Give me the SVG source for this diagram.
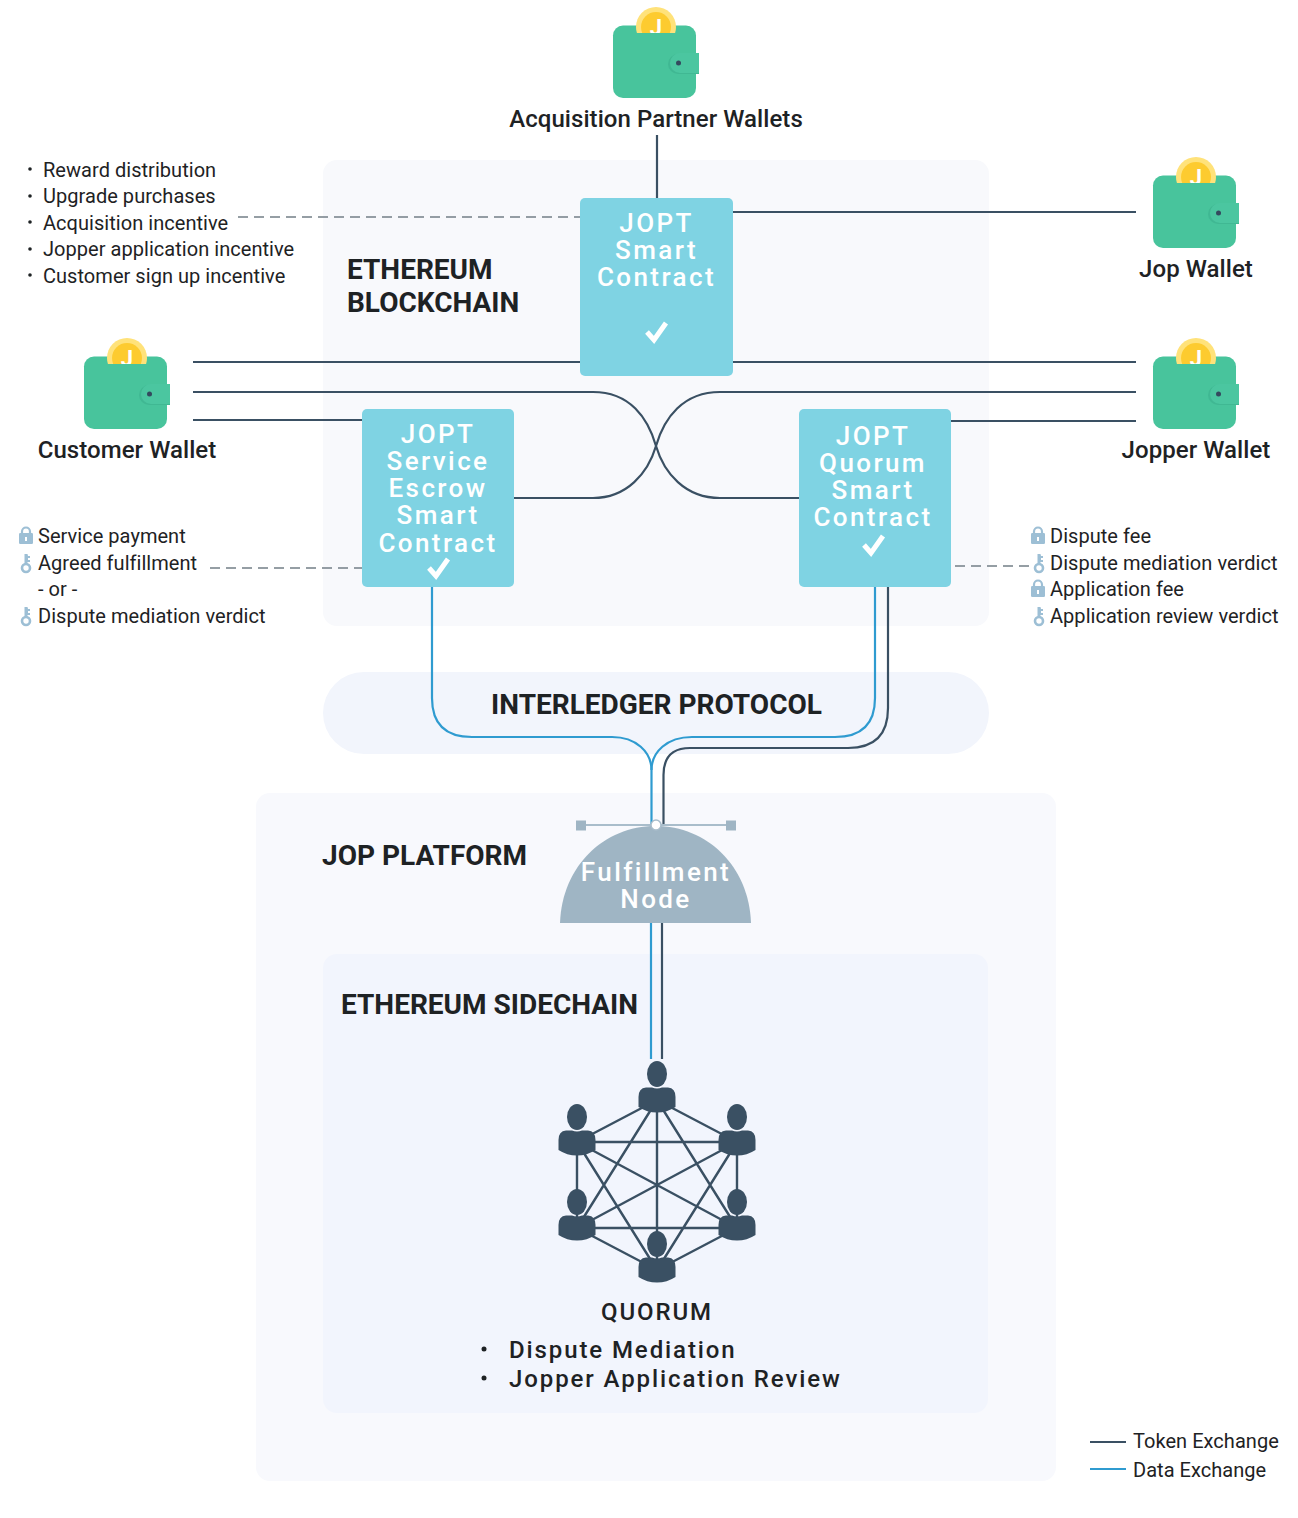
<svg xmlns="http://www.w3.org/2000/svg" width="1298" height="1518" viewBox="0 0 1298 1518">
<style>
text{font-family:Roboto,"Liberation Sans",sans-serif;fill:#1e2224}
.list{font-size:20px;letter-spacing:.04px}
.wl{font-size:24px;font-weight:500;text-anchor:middle;letter-spacing:.06px}
.title{font-size:28px;font-weight:700}
.box{font-size:26px;font-weight:500;fill:#fff;text-anchor:middle;letter-spacing:2.4px}
.q{font-size:24px;font-weight:500;letter-spacing:1.9px}
.tok{fill:none;stroke:#3a5063;stroke-width:2.2}
.dat{fill:none;stroke:#2f9bd0;stroke-width:2.2}
.dash{fill:none;stroke:#737f87;stroke-width:1.3;stroke-dasharray:10 6}
.net{stroke:#3a5063;stroke-width:2.4}
.card{fill:#7fd3e3}
.chk{fill:none;stroke:#fff;stroke-width:5}
</style>
<defs>
<clipPath id="coinclip"><rect x="630" y="0" width="52" height="33"/></clipPath>
<g id="wallet">
<rect x="613" y="25.500" width="83" height="72.500" rx="10" fill="#48c49c"/>
<g clip-path="url(#coinclip)">
<circle cx="656" cy="27" r="20" fill="#ffe27a"/>
<circle cx="656" cy="27" r="15" fill="#fdcb2f"/>
<text x="656" y="35" font-size="22" font-weight="700" text-anchor="middle" style="fill:#fff">J</text>
</g>
<path d="M678 54H699V74H678A10 10 0 0 1 678 54Z" fill="#40b893"/>
<path d="M680 53H699V73H680A10 10 0 0 1 680 53Z" fill="#4bc6a0"/>
<circle cx="678.500" cy="63" r="2.500" fill="#34495e"/>
</g>
<g id="person">
<ellipse cx="0" cy="-26" rx="10" ry="13" fill="#3a5063"/>
<path d="M-5 -12.500Q0 -10.500 5 -12.500H11Q18.500 -12 18.500 -3V7Q10 12.500 0 12.500Q-10 12.500 -18.500 7V-3Q-18.500 -12 -11 -12.500Z" fill="#3a5063"/>
</g>
<g id="lock">
<path d="M-4 -3V-4.500A4 4 0 0 1 4 -4.500V-3" fill="none" stroke="#9dbfd5" stroke-width="2.200"/>
<rect x="-7" y="-3" width="14" height="11" rx="1.200" fill="#9dbfd5"/>
<rect x="-1" y="1" width="2" height="4" fill="#fff"/>
</g>
<g id="key">
<circle cx="0" cy="5" r="4" fill="none" stroke="#9dbfd5" stroke-width="2.600"/>
<path d="M-1.500 2V-9H1.500L2 -7H4V-5H2V-3H4V-1H1.500V2Z" fill="#9dbfd5"/>
</g>
</defs>

<g id="panels">
<rect id="ethereum-panel" x="323" y="160" width="666" height="466" rx="14" fill="#f8f9fc"/>
<rect id="interledger-panel" x="323" y="672" width="666" height="82" rx="41" fill="#f2f5fc"/>
<rect id="platform-panel" x="256" y="793" width="800" height="688" rx="14" fill="#f8f9fd"/>
<rect id="sidechain-panel" x="323" y="954" width="665" height="459" rx="14" fill="#f2f5fd"/>
</g>

<g id="connectors">
<path class="tok" d="M657 135V198"/>
<path class="tok" d="M733 212H1136"/>
<path class="tok" d="M193 362H580"/>
<path class="tok" d="M733 362H1136"/>
<path class="tok" d="M193 420H362"/>
<path class="tok" d="M951 421H1136"/>
<path class="tok" d="M193 392H593C630 392 648 418 656 446C664 473 685 498 720 498H799"/>
<path class="tok" d="M1136 392H720C683 392 664 418 656 446C648 473 627 498 593 498H514"/>
<path class="dash" d="M238 217H580"/>
<path class="dash" d="M210 568H362"/>
<path class="dash" d="M955 566H1030"/>
<path class="dat" d="M432 587V698Q432 737 472 737H612C636 737 651.500 752 651.500 770V825"/>
<path class="dat" d="M875 587V698Q875 737 835 737H692C667 737 651.500 752 651.500 770"/>
<path class="tok" d="M888 587V708Q888 748 848 748H690Q663.500 748 663.500 775V825"/>
<path class="dat" d="M651 923V1059"/>
<path class="tok" d="M662 923V1059"/>
</g>

<g id="wallet-top"><use href="#wallet"/><text class="wl" x="656" y="127">Acquisition Partner Wallets</text></g>
<g id="wallet-jop"><use href="#wallet" x="540" y="150"/><text class="wl" x="1196" y="277">Jop Wallet</text></g>
<g id="wallet-customer"><use href="#wallet" x="-529" y="331"/><text class="wl" x="127" y="458">Customer Wallet</text></g>
<g id="wallet-jopper"><use href="#wallet" x="540" y="331"/><text class="wl" x="1196" y="458">Jopper Wallet</text></g>

<g id="notes-rewards">
<circle cx="30" cy="169" r="1.800" fill="#1e2224"/><circle cx="30" cy="196" r="1.800" fill="#1e2224"/><circle cx="30" cy="222" r="1.800" fill="#1e2224"/><circle cx="30" cy="249" r="1.800" fill="#1e2224"/><circle cx="30" cy="275" r="1.800" fill="#1e2224"/>
<text class="list" x="43" y="177">Reward distribution</text>
<text class="list" x="43" y="203">Upgrade purchases</text>
<text class="list" x="43" y="230">Acquisition incentive</text>
<text class="list" x="43" y="256">Jopper application incentive</text>
<text class="list" x="43" y="283">Customer sign up incentive</text>
</g>

<g id="notes-escrow">
<use href="#lock" x="26" y="536"/><use href="#key" x="26" y="563"/><use href="#key" x="26" y="616"/>
<text class="list" x="38" y="543">Service payment</text>
<text class="list" x="38" y="570">Agreed fulfillment</text>
<text class="list" x="38" y="596">- or -</text>
<text class="list" x="38" y="623">Dispute mediation verdict</text>
</g>

<g id="notes-quorum">
<use href="#lock" x="1038" y="536"/><use href="#key" x="1039" y="563"/><use href="#lock" x="1038" y="589"/><use href="#key" x="1039" y="616"/>
<text class="list" x="1050" y="543">Dispute fee</text>
<text class="list" x="1050" y="570">Dispute mediation verdict</text>
<text class="list" x="1050" y="596">Application fee</text>
<text class="list" x="1050" y="623">Application review verdict</text>
</g>

<g id="label-ethereum"><text class="title" x="347" y="279">ETHEREUM</text><text class="title" x="347" y="312">BLOCKCHAIN</text></g>

<g id="jopt-smart-contract">
<rect class="card" x="580" y="198" width="153" height="178" rx="5"/>
<text class="box" x="656.500" y="232">JOPT</text><text class="box" x="656.500" y="259">Smart</text><text class="box" x="656.500" y="286">Contract</text>
<path class="chk" d="M647 332L654 340L666 323"/>
</g>
<g id="jopt-escrow">
<rect class="card" x="362" y="409" width="152" height="178" rx="5"/>
<text class="box" x="438" y="443">JOPT</text><text class="box" x="438" y="470">Service</text><text class="box" x="438" y="497">Escrow</text><text class="box" x="438" y="524">Smart</text><text class="box" x="438" y="552">Contract</text>
<path class="chk" d="M429 568L436 576L448 559"/>
</g>
<g id="jopt-quorum">
<rect class="card" x="799" y="409" width="152" height="178" rx="5"/>
<text class="box" x="873" y="445">JOPT</text><text class="box" x="873" y="472">Quorum</text><text class="box" x="873" y="499">Smart</text><text class="box" x="873" y="526">Contract</text>
<path class="chk" d="M864 545L871 553L883 536"/>
</g>

<g id="label-interledger"><text class="title" x="656.500" y="714" text-anchor="middle">INTERLEDGER PROTOCOL</text></g>
<g id="label-platform"><text class="title" x="322" y="865">JOP PLATFORM</text></g>
<g id="label-sidechain"><text class="title" x="341" y="1014">ETHEREUM SIDECHAIN</text></g>

<g id="fulfillment-node">
<path d="M560 923C562 866 604 826 655.500 826C707 826 749 866 751 923Z" fill="#9fb5c4"/>
<path d="M580 825H731" stroke="#a9bdcb" stroke-width="2"/>
<rect x="576" y="820.500" width="10" height="10" fill="#9fb5c4"/>
<rect x="726" y="820.500" width="10" height="10" fill="#9fb5c4"/>
<circle cx="656" cy="825" r="5" fill="#fff" stroke="#a9bdcb" stroke-width="1.500"/>
<text class="box" x="656" y="881">Fulfillment</text>
<text class="box" x="656" y="908">Node</text>
</g>

<g id="quorum-network">
<path class="net" d="M657 1100L577 1142M657 1100L737 1142M657 1100L577 1228M657 1100L737 1228M657 1100V1270M577 1142H737M577 1142V1228M577 1142L737 1228M577 1142L657 1270M737 1142V1228M737 1142L577 1228M737 1142L657 1270M577 1228H737M577 1228L657 1270M737 1228L657 1270"/>
<use href="#person" x="657" y="1100"/>
<use href="#person" x="577" y="1143"/>
<use href="#person" x="737" y="1143"/>
<use href="#person" x="577" y="1228"/>
<use href="#person" x="737" y="1228"/>
<use href="#person" x="657" y="1270"/>
</g>

<g id="quorum-label">
<text class="q" x="657" y="1320" text-anchor="middle">QUORUM</text>
<circle cx="484" cy="1349" r="2.500" fill="#1e2224"/><circle cx="484" cy="1378" r="2.500" fill="#1e2224"/>
<text class="q" x="509" y="1358">Dispute Mediation</text>
<text class="q" x="509" y="1387">Jopper Application Review</text>
</g>

<g id="legend">
<path class="tok" d="M1090 1442H1126"/>
<path class="dat" d="M1090 1469H1126"/>
<text class="list" x="1133" y="1447.500">Token Exchange</text>
<text class="list" x="1133" y="1476.500">Data Exchange</text>
</g>
</svg>
